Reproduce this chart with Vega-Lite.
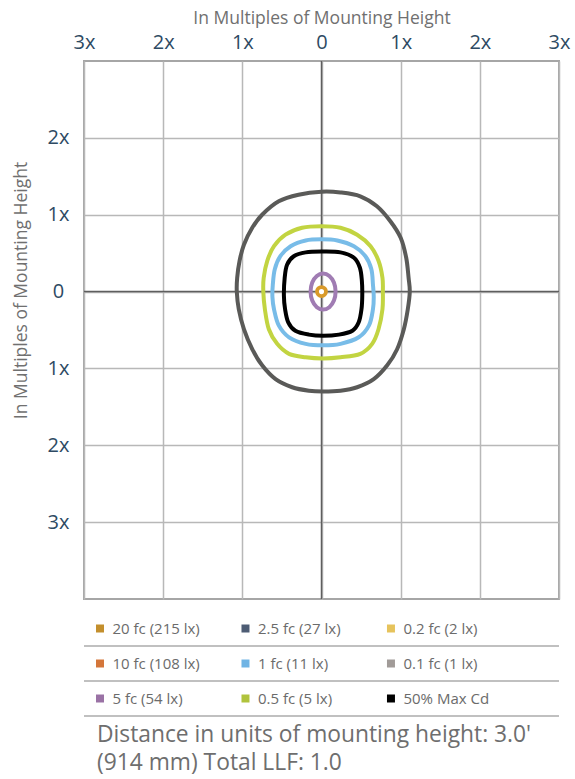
{
  "$schema": "https://vega.github.io/schema/vega-lite/v6.json",
  "background": "white",
  "padding": {"left": 11, "top": 8, "right": 0, "bottom": 0},
  "config": {"view": {"stroke": null}, "font": "Open Sans"},
  "resolve": {"scale": {"color": "independent"}},
  "datasets": {
    "contours": [
      {"c":"O","i":0,"x":0,"y":1.30},{"c":"O","i":1,"x":0.24,"y":1.29},{"c":"O","i":2,"x":0.49,"y":1.24},{"c":"O","i":3,"x":0.70,"y":1.11},{"c":"O","i":4,"x":0.87,"y":0.915},{"c":"O","i":5,"x":1.0,"y":0.70},{"c":"O","i":6,"x":1.07,"y":0.44},{"c":"O","i":7,"x":1.10,"y":0.18},{"c":"O","i":8,"x":1.115,"y":0.0},{"c":"O","i":9,"x":1.09,"y":-0.23},{"c":"O","i":10,"x":1.04,"y":-0.49},{"c":"O","i":11,"x":0.955,"y":-0.75},{"c":"O","i":12,"x":0.83,"y":-0.96},{"c":"O","i":13,"x":0.66,"y":-1.14},{"c":"O","i":14,"x":0.45,"y":-1.245},{"c":"O","i":15,"x":0.24,"y":-1.29},{"c":"O","i":16,"x":0.02,"y":-1.30},{"c":"O","i":17,"x":-0.16,"y":-1.29},{"c":"O","i":18,"x":-0.37,"y":-1.245},{"c":"O","i":19,"x":-0.58,"y":-1.14},{"c":"O","i":20,"x":-0.75,"y":-0.96},{"c":"O","i":21,"x":-0.875,"y":-0.75},{"c":"O","i":22,"x":-0.98,"y":-0.49},{"c":"O","i":23,"x":-1.045,"y":-0.23},{"c":"O","i":24,"x":-1.07,"y":0.0},{"c":"O","i":25,"x":-1.065,"y":0.18},{"c":"O","i":26,"x":-1.035,"y":0.40},{"c":"O","i":27,"x":-0.98,"y":0.61},{"c":"O","i":28,"x":-0.875,"y":0.83},{"c":"O","i":29,"x":-0.75,"y":1.0},{"c":"O","i":30,"x":-0.54,"y":1.175},{"c":"O","i":31,"x":-0.29,"y":1.26},
      {"c":"G","i":0,"x":0,"y":0.85},{"c":"G","i":1,"x":0.24,"y":0.83},{"c":"G","i":2,"x":0.45,"y":0.74},{"c":"G","i":3,"x":0.62,"y":0.59},{"c":"G","i":4,"x":0.72,"y":0.40},{"c":"G","i":5,"x":0.77,"y":0.18},{"c":"G","i":6,"x":0.775,"y":0.0},{"c":"G","i":7,"x":0.77,"y":-0.23},{"c":"G","i":8,"x":0.72,"y":-0.49},{"c":"G","i":9,"x":0.64,"y":-0.68},{"c":"G","i":10,"x":0.49,"y":-0.81},{"c":"G","i":11,"x":0.24,"y":-0.855},{"c":"G","i":12,"x":0.02,"y":-0.87},{"c":"G","i":13,"x":-0.20,"y":-0.855},{"c":"G","i":14,"x":-0.41,"y":-0.81},{"c":"G","i":15,"x":-0.56,"y":-0.68},{"c":"G","i":16,"x":-0.665,"y":-0.49},{"c":"G","i":17,"x":-0.715,"y":-0.23},{"c":"G","i":18,"x":-0.735,"y":0.0},{"c":"G","i":19,"x":-0.73,"y":0.18},{"c":"G","i":20,"x":-0.685,"y":0.40},{"c":"G","i":21,"x":-0.60,"y":0.59},{"c":"G","i":22,"x":-0.455,"y":0.74},{"c":"G","i":23,"x":-0.245,"y":0.83},
      {"c":"B","i":0,"x":0,"y":0.68},{"c":"B","i":1,"x":0.20,"y":0.665},{"c":"B","i":2,"x":0.41,"y":0.59},{"c":"B","i":3,"x":0.555,"y":0.46},{"c":"B","i":4,"x":0.63,"y":0.29},{"c":"B","i":5,"x":0.65,"y":0.09},{"c":"B","i":6,"x":0.66,"y":-0.07},{"c":"B","i":7,"x":0.65,"y":-0.23},{"c":"B","i":8,"x":0.60,"y":-0.44},{"c":"B","i":9,"x":0.47,"y":-0.595},{"c":"B","i":10,"x":0.24,"y":-0.68},{"c":"B","i":11,"x":0.02,"y":-0.70},{"c":"B","i":12,"x":-0.20,"y":-0.68},{"c":"B","i":13,"x":-0.41,"y":-0.595},{"c":"B","i":14,"x":-0.54,"y":-0.44},{"c":"B","i":15,"x":-0.60,"y":-0.23},{"c":"B","i":16,"x":-0.62,"y":-0.07},{"c":"B","i":17,"x":-0.615,"y":0.09},{"c":"B","i":18,"x":-0.59,"y":0.29},{"c":"B","i":19,"x":-0.52,"y":0.46},{"c":"B","i":20,"x":-0.39,"y":0.59},{"c":"B","i":21,"x":-0.20,"y":0.665},
      {"c":"K","i":0,"x":0,"y":0.52},{"c":"K","i":1,"x":0.24,"y":0.51},{"c":"K","i":2,"x":0.41,"y":0.44},{"c":"K","i":3,"x":0.485,"y":0.31},{"c":"K","i":4,"x":0.51,"y":0.14},{"c":"K","i":5,"x":0.515,"y":-0.05},{"c":"K","i":6,"x":0.505,"y":-0.23},{"c":"K","i":7,"x":0.47,"y":-0.40},{"c":"K","i":8,"x":0.39,"y":-0.51},{"c":"K","i":9,"x":0.22,"y":-0.56},{"c":"K","i":10,"x":0.02,"y":-0.575},{"c":"K","i":11,"x":-0.16,"y":-0.56},{"c":"K","i":12,"x":-0.33,"y":-0.51},{"c":"K","i":13,"x":-0.42,"y":-0.40},{"c":"K","i":14,"x":-0.46,"y":-0.23},{"c":"K","i":15,"x":-0.475,"y":-0.05},{"c":"K","i":16,"x":-0.465,"y":0.18},{"c":"K","i":17,"x":-0.435,"y":0.35},{"c":"K","i":18,"x":-0.35,"y":0.46},{"c":"K","i":19,"x":-0.20,"y":0.51},
      {"c":"P","i":0,"x":0.178,"y":0},{"c":"P","i":1,"x":0.157,"y":0.117},{"c":"P","i":2,"x":0.099,"y":0.203},{"c":"P","i":3,"x":0.02,"y":0.234},{"c":"P","i":4,"x":-0.059,"y":0.203},{"c":"P","i":5,"x":-0.117,"y":0.117},{"c":"P","i":6,"x":-0.138,"y":0},{"c":"P","i":7,"x":-0.117,"y":-0.117},{"c":"P","i":8,"x":-0.059,"y":-0.203},{"c":"P","i":9,"x":0.02,"y":-0.234},{"c":"P","i":10,"x":0.099,"y":-0.203},{"c":"P","i":11,"x":0.157,"y":-0.117}
    ],
    "legend": [
      {"row":0,"col":0,"label":"20 fc (215 lx)"},
      {"row":0,"col":1,"label":"2.5 fc (27 lx)"},
      {"row":0,"col":2,"label":"0.2 fc (2 lx)"},
      {"row":1,"col":0,"label":"10 fc (108 lx)"},
      {"row":1,"col":1,"label":"1 fc (11 lx)"},
      {"row":1,"col":2,"label":"0.1 fc (1 lx)"},
      {"row":2,"col":0,"label":"5 fc (54 lx)"},
      {"row":2,"col":1,"label":"0.5 fc (5 lx)"},
      {"row":2,"col":2,"label":"50% Max Cd"}
    ],
    "seps": [{"row":0},{"row":1},{"row":2}],
    "footer": [
      {"line":0,"col":0,"text":"Distance in units of mounting height: 3.0'"},
      {"line":1,"col":0,"text":"(914 mm) Total LLF: 1.0"}
    ]
  },
  "spacing": 10,
  "vconcat": [
    {
      "width": 475,
      "height": 538,
      "view": {"stroke": "#a6a6a6", "strokeWidth": 2},
      "layer": [
        {
          "data": {"values": [{"x": 0, "y": 0}]},
          "mark": {"type": "rule", "color": "#5e5e5e", "strokeWidth": 1.5},
          "encoding": {"x": {"field": "x", "type": "quantitative"}}
        },
        {
          "data": {"values": [{"x": 0, "y": 0}]},
          "mark": {"type": "rule", "color": "#5e5e5e", "strokeWidth": 1.5},
          "encoding": {"y": {"field": "y", "type": "quantitative"}}
        },
        {
          "data": {"name": "contours"},
          "mark": {"type": "line", "interpolate": "cardinal-closed", "strokeWidth": 4, "strokeJoin": "round"},
          "encoding": {
            "x": {"field": "x", "type": "quantitative",
              "scale": {"domain": [-3, 3], "nice": false, "zero": false},
              "axis": {"orient": "top", "values": [-3,-2,-1,0,1,2,3],
                "labelExpr": "datum.value == 0 ? '0' : abs(datum.value) + 'x'",
                "labelFontSize": 20, "labelColor": "#2e4a63", "labelPadding": 19, "labelBaseline": "middle",
                "labelFlush": false, "labelOverlap": false,
                "ticks": false, "tickSize": 0, "domain": false,
                "grid": true, "gridColor": "#b8b8b8", "gridWidth": 1.5,
                "title": "In Multiples of Mounting Height", "titleFontSize": 17.5, "titleFontWeight": "normal",
                "titleColor": "#707070", "titleY": -38, "titleBaseline": "alphabetic"}},
            "y": {"field": "y", "type": "quantitative",
              "scale": {"domain": [-4, 3], "nice": false, "zero": false},
              "axis": {"values": [-3,-2,-1,0,1,2],
                "labelExpr": "datum.value == 0 ? '0' : abs(datum.value) + 'x'",
                "labelFontSize": 20, "labelColor": "#2e4a63", "labelPadding": 26, "labelAlign": "center", "labelBaseline": "middle",
                "labelOverlap": false,
                "ticks": false, "tickSize": 0, "domain": false,
                "grid": true, "gridColor": "#b8b8b8", "gridWidth": 1.5,
                "title": "In Multiples of Mounting Height", "titleFontSize": 17.5, "titleFontWeight": "normal",
                "titleColor": "#707070", "titleAngle": -90, "titleX": -63, "titleY": 229, "titleAlign": "center", "titleBaseline": "middle"}},
            "color": {"field": "c", "type": "nominal",
              "scale": {"domain": ["O","G","B","K","P"], "range": ["#5a5a58","#c2d441","#78bce8","#000000","#a07cb3"]},
              "legend": null},
            "order": {"field": "i", "type": "quantitative"}
          }
        },
        {
          "data": {"values": [{"x": 0, "y": 0}]},
          "mark": {"type": "point", "shape": "circle", "filled": false, "fill": "#ffffff", "fillOpacity": 1, "stroke": "#d99a2a", "size": 80, "strokeWidth": 3.8, "opacity": 1},
          "encoding": {
            "x": {"field": "x", "type": "quantitative"},
            "y": {"field": "y", "type": "quantitative"}
          }
        }
      ]
    },
    {
      "spacing": 4,
      "vconcat": [
        {
          "width": 475,
          "height": 105,
          "layer": [
            {
              "data": {"name": "seps"},
              "mark": {"type": "rule", "color": "#ababab", "strokeWidth": 1.5},
              "encoding": {
                "y": {"field": "row", "type": "ordinal", "bandPosition": 1,
                  "scale": {"paddingInner": 0, "paddingOuter": 0}, "axis": null}
              }
            },
            {
              "data": {"name": "legend"},
              "mark": {"type": "point", "shape": "square", "filled": true, "size": 64, "opacity": 1, "strokeWidth": 0},
              "encoding": {
                "x": {"field": "col", "type": "quantitative", "scale": {"domain": [-0.11, 3.155], "nice": false, "zero": false}, "axis": null},
                "y": {"field": "row", "type": "ordinal", "axis": null},
                "color": {"field": "label", "type": "nominal",
                  "scale": {"domain": ["20 fc (215 lx)","2.5 fc (27 lx)","0.2 fc (2 lx)","10 fc (108 lx)","1 fc (11 lx)","0.1 fc (1 lx)","5 fc (54 lx)","0.5 fc (5 lx)","50% Max Cd"],
                    "range": ["#c38f2d","#4d5c74","#e6c35c","#d4763a","#70b4e4","#a19b98","#9a72a5","#b0c33c","#000000"]},
                  "legend": null}
              }
            },
            {
              "data": {"name": "legend"},
              "mark": {"type": "text", "align": "left", "baseline": "middle", "dx": 12.5, "fontSize": 15, "color": "#6b6b6b"},
              "encoding": {
                "x": {"field": "col", "type": "quantitative", "axis": null},
                "y": {"field": "row", "type": "ordinal", "axis": null},
                "text": {"field": "label"}
              }
            }
          ]
        },
        {
          "width": 475,
          "height": 56,
          "data": {"name": "footer"},
          "mark": {"type": "text", "align": "left", "baseline": "middle", "dx": -3, "fontSize": 22.8, "color": "#6e6e6e"},
          "encoding": {
            "x": {"field": "col", "type": "quantitative", "scale": {"domain": [-0.11, 3.155], "nice": false, "zero": false}, "axis": null},
            "y": {"field": "line", "type": "ordinal", "scale": {"paddingInner": 0, "paddingOuter": 0}, "axis": null},
            "text": {"field": "text"}
          }
        }
      ]
    }
  ]
}
